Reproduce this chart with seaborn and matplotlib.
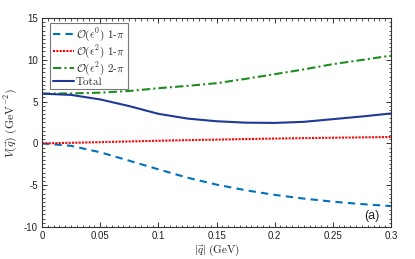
import matplotlib
matplotlib.use("Agg")
import matplotlib.pyplot as plt
import seaborn as sns
import pandas as pd
from matplotlib.ticker import MultipleLocator

q = [0.0, 0.025, 0.05, 0.075, 0.1, 0.125, 0.15, 0.175, 0.2, 0.225, 0.25, 0.275, 0.3]
lo_1pi = [0.0, -0.29, -1.06, -2.07, -3.1, -4.1, -4.93, -5.6, -6.16, -6.6, -6.97, -7.26, -7.5]
nlo_1pi = [0.0, 0.07, 0.15, 0.23, 0.32, 0.39, 0.45, 0.52, 0.58, 0.63, 0.68, 0.72, 0.76]
nlo_2pi = [5.95, 5.98, 6.07, 6.27, 6.6, 6.88, 7.2, 7.72, 8.28, 8.85, 9.48, 9.98, 10.5]
total = [5.95, 5.8, 5.26, 4.46, 3.54, 2.97, 2.65, 2.48, 2.45, 2.58, 2.9, 3.22, 3.58]

labels = [r'$\mathcal{O}(\epsilon^0)$ 1-$\pi$', r'$\mathcal{O}(\epsilon^2)$ 1-$\pi$',
          r'$\mathcal{O}(\epsilon^2)$ 2-$\pi$', 'Total']
series = [lo_1pi, nlo_1pi, nlo_2pi, total]
colors = ['#0072BD', '#FF0000', '#1E8C1E', '#1F3A96']
styles = [(0, (3.5, 2.5)), (0, (1, 0.6)), (0, (4, 1.5, 1, 1.5)), '-']

sns.set_theme(style='ticks', rc={
    'xtick.direction': 'in', 'ytick.direction': 'in',
    'xtick.top': True, 'ytick.right': True,
    'xtick.bottom': True, 'ytick.left': True,
    'xtick.major.size': 3.5, 'ytick.major.size': 3.5,
    'xtick.minor.size': 1.8, 'ytick.minor.size': 1.8,
    'xtick.major.width': 0.7, 'ytick.major.width': 0.7,
    'xtick.minor.width': 0.6, 'ytick.minor.width': 0.6,
    'xtick.color': '#333333', 'ytick.color': '#333333',
    'xtick.labelcolor': '#222222', 'ytick.labelcolor': '#222222',
})
plt.rcParams['mathtext.fontset'] = 'cm'
plt.rcParams['axes.unicode_minus'] = False
plt.rcParams['font.family'] = ['Liberation Sans', 'DejaVu Sans']

fig = plt.figure(figsize=(4.15, 2.59), dpi=100)
ax = fig.add_axes([42/415, 32/259, 349/415, 209/259])

for lab, vals, c, ls in zip(labels, series, colors, styles):
    df = pd.DataFrame({'q': q, 'V': vals})
    sns.lineplot(data=df, x='q', y='V', ax=ax, color=c, linestyle=ls, lw=1.5, label=lab)

ax.set_xlim(0, 0.3)
ax.set_ylim(-10, 15)
ax.set_xticks([0, 0.05, 0.1, 0.15, 0.2, 0.25, 0.3])
ax.set_xticklabels(['0', '0.05', '0.1', '0.15', '0.2', '0.25', '0.3'])
ax.set_yticks([-10, -5, 0, 5, 10, 15])
ax.set_yticklabels(['-10', '-5', '0', '5', '10', '15'])
ax.xaxis.set_minor_locator(MultipleLocator(0.005))
ax.yaxis.set_minor_locator(MultipleLocator(0.5))
ax.tick_params(which='both', direction='in', bottom=True, left=True, top=True, right=True, labelsize=7)
ax.tick_params(which='major', pad=3)
for s in ax.spines.values():
    s.set_visible(True)
    s.set_color('#333333')
    s.set_linewidth(0.8)

ax.set_xlabel(r'$|\vec{q}|\ \mathrm{(GeV)}$', fontsize=8, labelpad=1)
ax.set_ylabel(r'$V(\vec{q})\ \mathrm{(GeV^{-2})}$', fontsize=8.5, labelpad=3)

leg = ax.legend(loc='upper left', bbox_to_anchor=(0.016, 0.985), prop={'family': 'cmr10', 'size': 8},
                frameon=True, fancybox=False, edgecolor='#555555', handlelength=1.9, handletextpad=0.2,
                labelspacing=0.0, borderpad=0.25, borderaxespad=0.2)
leg.get_frame().set_linewidth(0.8)

ax.text(0.944, 0.024, '(a)', transform=ax.transAxes, fontsize=9, ha='center', va='bottom', color='#222222')

fig.savefig('out.png', dpi=100)
